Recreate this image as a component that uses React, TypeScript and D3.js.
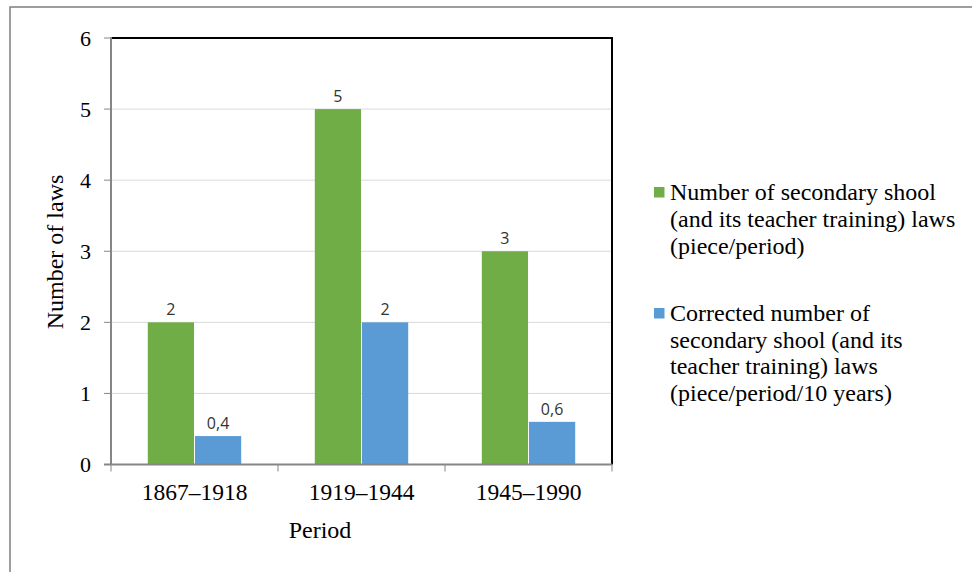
import React from "react";
import * as d3 from "d3";

const categories = ["1867–1918", "1919–1944", "1945–1990"];
const seriesNames = ["laws", "corrected"];
const lawsValues = [2, 5, 3];
const correctedValues = [0.4, 2, 0.6];
const valueLabels = [["2", "5", "3"], ["0,4", "2", "0,6"]];
const yTicks = [0, 1, 2, 3, 4, 5, 6];
const colors = ["#70AD47", "#5B9BD5"];
const legend1 = ["Number of secondary shool", "(and its teacher training) laws", "(piece/period)"];
const legend2 = ["Corrected number of", "secondary shool (and its", "teacher training) laws", "(piece/period/10 years)"];

const W = 972, H = 572;
const plot = { left: 111, right: 612, top: 38, bottom: 464.5 };
const serifStyle = { fontFamily: "Liberation Serif, DejaVu Serif, serif" };
const sansStyle = { fontFamily: "Open Sans, Liberation Sans, sans-serif" };

export default function App() {
  const x0 = d3.scaleBand<string>().domain(categories).range([plot.left, plot.right]).padding(0);
  const x1 = d3.scaleBand<string>().domain(seriesNames).range([0, x0.bandwidth()]).paddingInner(0.02).paddingOuter(0.78);
  const y = d3.scaleLinear().domain([0, 6]).range([plot.bottom, plot.top]);
  const series = [lawsValues, correctedValues];
  const boundaries = [...categories.map((c) => x0(c) as number), plot.right];

  return (
    <svg width={W} height={H} style={{ position: "absolute", left: 0, top: 0, background: "#fff" }}>
      <rect x={10} y={7} width={1200} height={800} fill="#fff" stroke="#7f7f7f" strokeWidth={1.5} />
      {yTicks.filter((t) => t > 0 && t < 6).map((t) => (
        <line key={t} x1={plot.left} x2={plot.right} y1={y(t)} y2={y(t)} stroke="#d9d9d9" strokeWidth={1} />
      ))}
      {series.map((vals, si) =>
        categories.map((c, ci) => {
          const bx = (x0(c) as number) + (x1(seriesNames[si]) as number);
          const bw = x1.bandwidth();
          return (
            <g key={`${si}-${ci}`}>
              <rect x={bx} y={y(vals[ci])} width={bw} height={y(0) - y(vals[ci])} fill={colors[si]} />
              <text x={bx + bw / 2} y={y(vals[ci]) - 7} textAnchor="middle" style={sansStyle} fontSize={16} fill="#333">
                {valueLabels[si][ci]}
              </text>
            </g>
          );
        })
      )}
      <line x1={plot.left} x2={plot.right + 1} y1={plot.top} y2={plot.top} stroke="#000" strokeWidth={2} />
      <line x1={plot.right} x2={plot.right} y1={plot.top} y2={plot.bottom} stroke="#000" strokeWidth={2} />
      <line x1={plot.left} x2={plot.left} y1={plot.top - 1} y2={plot.bottom} stroke="#868686" strokeWidth={2} />
      {yTicks.map((t) => (
        <g key={t}>
          <line x1={plot.left - 7} x2={plot.left} y1={y(t)} y2={y(t)} stroke="#868686" strokeWidth={1} />
          <text x={91} y={y(t)} dy="0.35em" textAnchor="end" style={serifStyle} fontSize={22} fill="#000">{t}</text>
        </g>
      ))}
      <line x1={plot.left - 7} x2={plot.right} y1={plot.bottom} y2={plot.bottom} stroke="#868686" strokeWidth={2} />
      {boundaries.map((bx, i) => (
        <line key={i} x1={bx} x2={bx} y1={plot.bottom} y2={plot.bottom + 7} stroke="#868686" strokeWidth={1} />
      ))}
      {categories.map((c) => (
        <text key={c} x={(x0(c) as number) + x0.bandwidth() / 2} y={500} textAnchor="middle" style={serifStyle} fontSize={23.5} fill="#000">{c}</text>
      ))}
      <text x={320} y={538} textAnchor="middle" style={serifStyle} fontSize={24} fill="#000">Period</text>
      <text transform={`translate(63,252) rotate(-90)`} textAnchor="middle" style={serifStyle} fontSize={24} fill="#000">Number of laws</text>
      <rect x={654} y={187} width={10.5} height={10.5} fill={colors[0]} />
      {legend1.map((l, i) => (
        <text key={l} x={670} y={199.5 + i * 27.3} style={serifStyle} fontSize={24} fill="#000">{l}</text>
      ))}
      <rect x={654} y={308} width={10.5} height={10.5} fill={colors[1]} />
      {legend2.map((l, i) => (
        <text key={l} x={670} y={321 + i * 26.5} style={serifStyle} fontSize={24} fill="#000">{l}</text>
      ))}
    </svg>
  );
}
